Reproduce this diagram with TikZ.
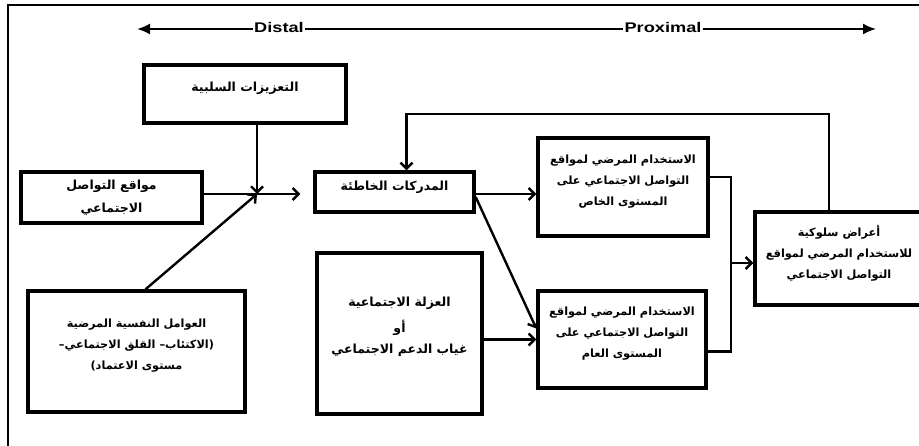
\documentclass[tikz,border=0pt]{standalone}
\usepackage{fontspec}
\setmainfont{Liberation Sans}
\newfontfamily\arabicfont[Script=Arabic]{DejaVu Sans}
\newfontfamily\axisfont[FakeStretch=1.3]{Liberation Sans}
\TeXXeTstate=1
\usetikzlibrary{positioning,arrows.meta}
\newcommand{\artxt}[1]{\beginR #1\endR}
\tikzset{box node/.style={rectangle,draw,line width=3.4pt,fill=white,align=center,inner sep=2pt,
    font=\arabicfont\bfseries\fontsize{11.3}{21}\selectfont},
  link/.style={line width=2.4pt,-{Straight Barb[length=6pt,width=12pt,line width=2.4pt]}},
  plain link/.style={line width=2.4pt},
  axis label/.style={font=\axisfont\bfseries\fontsize{14}{15}\selectfont,inner sep=1.5pt}}

\begin{document}
\begin{tikzpicture}[x=1pt,y=-1pt]
  \useasboundingbox (0,0) rectangle (919,446);
  % frame
  \draw[line width=2pt] (8,446) -- (8,5) -- (925,5);

  % distal / proximal axis
  \node[axis label] (dis) at (279,27) {Distal};
  \node[axis label] (prox) at (663,27) {Proximal};
  \coordinate (la) at (137,29);
  \coordinate (ra) at (876,29);
  \draw[line width=2pt,-{Latex[length=13pt,width=11pt]}] (dis.west |- la) -- (la);
  \draw[line width=2pt] (dis.east |- la) -- (prox.west |- la);
  \draw[line width=2pt,-{Latex[length=13pt,width=11pt]}] (prox.east |- ra) -- (ra);

  % boxes
  \node[box node,minimum width=202pt,minimum height=58pt,font=\arabicfont\bfseries\fontsize{12.5}{21}\selectfont] (neg) at (245,94)
    {\artxt{التعزيزات السلبية}\\[-7pt]};
  \node[box node,minimum width=181pt,minimum height=51pt,font=\arabicfont\bfseries\fontsize{12.5}{21}\selectfont] (soc) at (111.5,197.5)
    {\artxt{مواقع التواصل}\\[2pt]\artxt{الاجتماعي}};
  \node[box node,minimum width=217pt,minimum height=121pt] (psy) at (136.5,351.5)
    {\artxt{العوامل النفسية المرضية}\\\artxt{(الاكتئاب– القلق الاجتماعي–}\\\artxt{مستوى الاعتماد)}\\[-6pt]};
  \node[box node,minimum width=159pt,minimum height=40pt,font=\arabicfont\bfseries\fontsize{12.5}{21}\selectfont] (mis) at (394.5,192)
    {\artxt{المدركات الخاطئة}\\[-9pt]};
  \node[box node,minimum width=165pt,minimum height=161pt,font=\arabicfont\bfseries\fontsize{12.5}{21}\selectfont] (iso) at (399.5,333.5)
    {\artxt{العزلة الاجتماعية}\\[5pt]\artxt{أو}\\\artxt{غياب الدعم الاجتماعي}\\[-4pt]};
  \node[box node,minimum width=170pt,minimum height=98pt] (prv) at (623,187)
    {\artxt{الاستخدام المرضي لمواقع}\\\artxt{التواصل الاجتماعي على}\\\artxt{المستوى الخاص}\\[-7pt]};
  \node[box node,minimum width=168pt,minimum height=97pt] (pub) at (622,339.5)
    {\artxt{الاستخدام المرضي لمواقع}\\\artxt{التواصل الاجتماعي على}\\\artxt{المستوى العام}\\[-6pt]};
  \node[box node,minimum width=168pt,minimum height=93pt] (sym) at (839,258.5)
    {\artxt{أعراض سلوكية}\\\artxt{للاستخدام المرضي لمواقع}\\\artxt{التواصل الاجتماعي}\\[-8pt]};

  % connectors
  \coordinate (jn) at (257,194);
  \coordinate (bus) at (731,263);
  \coordinate (fb) at (829,114);
  \draw[plain link] (soc.east |- jn) -- (jn);
  \draw[link] (neg.south -| jn) -- (jn);
  \draw[link] ([xshift=9pt]psy.north) -- (jn);
  \draw[link,shorten >=13pt] (jn) -- (mis.west |- jn);
  \draw[link] (sym.north -| fb) |- (fb) -| ([xshift=12pt]mis.north);
  \draw[link] ([yshift=-2pt]mis.east) -- ([yshift=-2pt]mis.east -| prv.west);
  \draw[link] ([yshift=-5pt]mis.east) -- ([yshift=11pt]pub.west);
  \draw[link] (iso.east |- pub.west) -- (pub.west);
  \draw[plain link] ([yshift=10pt]prv.east) -| (bus);
  \draw[plain link] ([yshift=-12pt]pub.east) -| (bus);
  \draw[link] (bus) -- (sym.west |- bus);
\end{tikzpicture}
\end{document}
